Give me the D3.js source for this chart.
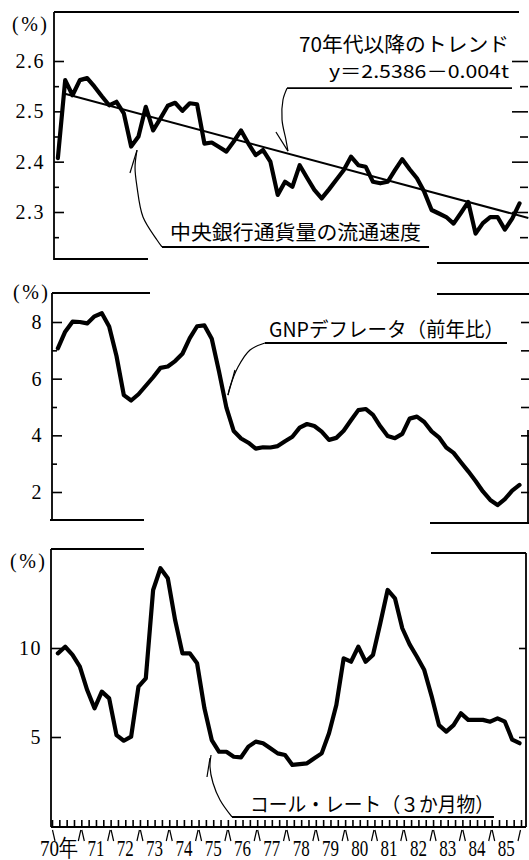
<!DOCTYPE html>
<html>
<head>
<meta charset="utf-8">
<script src="https://d3js.org/d3.v7.min.js"></script>
<style>
  body { margin: 0; background: #fff; }
  svg { display: block; }
  .num { font-family: "Liberation Serif", "DejaVu Serif", serif; fill: #000; }
  .jp { font-family: "Noto Sans CJK JP", sans-serif; fill: #000; }
  .frame { stroke: #000; stroke-width: 1.8; fill: none; }
  .axis path { display: none; }
  .axis line { stroke: #000; stroke-width: 1.6; }
</style>
</head>
<body>
<svg width="529" height="860"></svg>
<script>
  // quarterly data, 1970 Q1 .. 1985 Q4
  const velocity = [
    2.407, 2.562, 2.532, 2.562, 2.566, 2.549, 2.530, 2.512,
    2.519, 2.496, 2.430, 2.450, 2.509, 2.462, 2.486, 2.511,
    2.517, 2.501, 2.516, 2.514, 2.436, 2.438, 2.429, 2.420,
    2.440, 2.462, 2.436, 2.413, 2.423, 2.400, 2.334, 2.360,
    2.350, 2.393, 2.368, 2.344, 2.327, 2.345, 2.364, 2.383,
    2.410, 2.393, 2.390, 2.360, 2.357, 2.360, 2.383, 2.405,
    2.385, 2.367, 2.340, 2.304, 2.297, 2.290, 2.277, 2.298,
    2.320, 2.257, 2.278, 2.290, 2.290, 2.265, 2.287, 2.317
  ];
  const deflator = [
    7.07, 7.66, 8.01, 8.00, 7.95, 8.20, 8.31, 7.84,
    6.80, 5.42, 5.23, 5.45, 5.75, 6.05, 6.38, 6.43,
    6.62, 6.88, 7.43, 7.85, 7.88, 7.41, 6.24, 4.98,
    4.15, 3.89, 3.74, 3.53, 3.58, 3.57, 3.62, 3.79,
    3.95, 4.27, 4.40, 4.33, 4.13, 3.84, 3.91, 4.16,
    4.53, 4.89, 4.93, 4.72, 4.32, 3.98, 3.90, 4.05,
    4.59, 4.66, 4.47, 4.14, 3.93, 3.57, 3.38, 3.05,
    2.73, 2.39, 2.02, 1.72, 1.54, 1.75, 2.05, 2.25
  ];
  const callRate = [
    9.70, 10.07, 9.61, 8.95, 7.64, 6.61, 7.55, 7.17,
    5.11, 4.79, 5.02, 7.83, 8.30, 13.26, 14.48, 13.92,
    11.57, 9.70, 9.70, 9.14, 6.61, 4.83, 4.17, 4.17,
    3.89, 3.86, 4.46, 4.74, 4.65, 4.37, 4.08, 3.99,
    3.43, 3.48, 3.52, 3.80, 4.08, 5.21, 6.80, 9.42,
    9.23, 10.07, 9.23, 9.61, 11.39, 13.26, 12.79, 11.11,
    10.20, 9.51, 8.76, 7.30, 5.67, 5.30, 5.67, 6.33,
    5.96, 5.96, 5.96, 5.86, 6.05, 5.86, 4.85, 4.65
  ];
  // trend line end points: [quarter, value]
  const trendEnds = [[0.7, 2.536], [64.2, 2.288]];

  const velocityTicks = [2.3, 2.4, 2.5, 2.6];
  const velocityMinor = [2.25, 2.35, 2.45, 2.55];
  const deflatorTicks = [2, 4, 6, 8];
  const deflatorMinor = [3, 5, 7];
  const callTicks = [5, 10];
  const years = d3.range(1970, 1986);
  const yearLabels = years.map(y => y === 1970 ? '70年' : String(y).slice(2));

  const svg = d3.select('svg');

  const xYear = d3.scaleLinear().domain([1970, 1986]).range([52, 521]);
  const xq = d3.scaleLinear().domain([-0.8, 63.2]).range([52, 521]);

  const y1 = d3.scaleLinear().domain([2.3, 2.6]).range([212, 61]);
  const y2 = d3.scaleLinear().domain([2, 8]).range([492, 322]);
  const y3 = d3.scaleLinear().domain([5, 10]).range([737, 648]);

  /*****************************************************
  ** frames (the printed frame is broken in places)
  ******************************************************/
  const frames = [
    [[54, 12], [54, 260]], [[54, 12], [519, 12]], [[54, 259], [148, 259]], [[437, 263], [529, 263]],
    [[52, 293], [52, 520]], [[52, 293], [150, 293]], [[437, 294], [529, 294]],
    [[50, 520], [144, 520]], [[430, 523], [529, 523]], [[528, 430], [528, 523]],
    [[51, 549], [51, 827]], [[51, 549], [144, 549]], [[431, 553], [526, 553]],
    [[526, 553], [526, 827]], [[51, 827], [526, 827]]
  ];
  svg.selectAll('line.frame').data(frames).enter().append('line')
    .attr('class', 'frame')
    .attr('x1', d => d[0][0]).attr('y1', d => d[0][1])
    .attr('x2', d => d[1][0]).attr('y2', d => d[1][1]);

  /*****************************************************
  ** y axes
  ******************************************************/
  function leftAxis(x, scale, major, minor, fmt) {
    const g = svg.append('g').attr('class', 'axis num').attr('transform', `translate(${x},0)`)
      .call(d3.axisLeft(scale).tickValues(major).tickSize(-10).tickPadding(9).tickFormat(fmt));
    g.selectAll('text').attr('font-size', 20).attr('letter-spacing', 1.5)
      .attr('font-family', '"Liberation Serif", "DejaVu Serif", serif').attr('fill', '#000');
    if (minor.length) {
      svg.append('g').attr('class', 'axis').attr('transform', `translate(${x},0)`)
        .call(d3.axisLeft(scale).tickValues(minor).tickSize(-5).tickFormat(''));
    }
  }
  function rightTicks(x, scale, major, minor, len) {
    svg.append('g').attr('class', 'axis').attr('transform', `translate(${x},0)`)
      .call(d3.axisRight(scale).tickValues(major).tickSize(-len).tickFormat(''));
    if (minor.length) {
      svg.append('g').attr('class', 'axis').attr('transform', `translate(${x},0)`)
        .call(d3.axisRight(scale).tickValues(minor).tickSize(-len / 2).tickFormat(''));
    }
  }

  leftAxis(54, y1, velocityTicks, velocityMinor, d3.format('.1f'));
  rightTicks(528, y1, velocityTicks, velocityMinor, 16);
  leftAxis(52, y2, deflatorTicks, deflatorMinor, d3.format('d'));
  rightTicks(529, y2, d3.range(2, 9), [], 8);
  leftAxis(51, y3, callTicks, [], d3.format('d'));
  rightTicks(526, y3, callTicks, [], 7);

  // (%) units
  [[12, 31], [13, 299], [10, 568]].forEach(p => {
    svg.append('text').attr('class', 'num').attr('x', p[0]).attr('y', p[1])
      .attr('font-size', 20).attr('letter-spacing', 2.5).text('(%)');
  });

  /*****************************************************
  ** bottom axis: quarter ticks, year marks and labels
  ******************************************************/
  svg.append('g').attr('class', 'axis').attr('transform', 'translate(0,827)')
    .call(d3.axisBottom(xYear).tickValues(d3.range(1970, 1986.01, 0.25)).tickSize(-7).tickFormat(''));

  const bounds = d3.range(1970, 1987);
  svg.selectAll('path.sep').data(bounds).enter().append('path')
    .attr('class', 'sep')
    .attr('d', b => {
      const x = xYear(b);
      let d = '';
      if (b > 1970) d += `M${x - 0.5},830L${x - 3},841`;
      if (b < 1986) d += `M${x + 0.5},830L${x + 3},841`;
      return d;
    })
    .attr('stroke', '#000').attr('stroke-width', 1.2).attr('fill', 'none');

  svg.selectAll('text.year').data(years).enter().append('text')
    .attr('class', 'year num')
    .attr('x', (y, i) => i === 0 ? 40 : xYear(y + 0.5) - 8.5)
    .attr('y', 856)
    .attr('font-size', 24)
    .attr('textLength', (y, i) => i === 0 ? 38 : 17)
    .attr('lengthAdjust', 'spacingAndGlyphs')
    .text((y, i) => yearLabels[i]);

  /*****************************************************
  ** series
  ******************************************************/
  const line = scale => d3.line().x((d, i) => xq(i)).y(d => scale(d));

  svg.append('path').datum(trendEnds)
    .attr('d', d3.line().x(d => xq(d[0])).y(d => y1(d[1])))
    .attr('stroke', '#000').attr('stroke-width', 2).attr('fill', 'none');

  [[velocity, y1], [deflator, y2], [callRate, y3]].forEach(([data, scale]) => {
    svg.append('path').datum(data)
      .attr('d', line(scale))
      .attr('fill', 'none').attr('stroke', '#000').attr('stroke-width', 4.2)
      .attr('stroke-linejoin', 'round').attr('stroke-linecap', 'round');
  });

  /*****************************************************
  ** labels with leaders, points as [quarter, value]
  ******************************************************/
  const notes = [
    { scale: y1,
      leader: [[31.27, 2.546], [30.72, 2.523], [30.59, 2.483], [31.13, 2.443], [31.40, 2.421]],
      arrow: [[29.76, 2.459], [31.40, 2.421]],
      under: [[31.27, 2.546], [61.97, 2.546]],
      texts: [
        { at: [61.56, 2.618], anchor: 'end', len: 210, size: 20, t: '70年代以降のトレンド' },
        { at: [61.56, 2.566], anchor: 'end', len: 180, size: 18, t: 'y＝2.5386－0.004t' }
      ] },
    { scale: y1,
      leader: [[14.21, 2.2305], [13.53, 2.2444], [11.62, 2.290], [10.80, 2.350], [10.53, 2.389], [10.80, 2.423]],
      arrow: [[9.84, 2.3775], [10.80, 2.423]],
      under: [[14.21, 2.2305], [50.65, 2.2305]],
      texts: [{ at: [15.30, 2.2444], anchor: 'start', len: 251, size: 20, t: '中央銀行通貨量の流通速度' }] },
    { scale: y2,
      leader: [[28.26, 7.259], [26.22, 7.012], [24.58, 6.41], [23.49, 5.706], [23.21, 5.42]],
      arrow: [[24.17, 6.306], [23.21, 5.42]],
      under: [[28.26, 7.259], [61.29, 7.259]],
      texts: [{ at: [28.81, 7.47], anchor: 'start', len: 235, size: 20, t: 'GNPデフレータ（前年比）' }] },
    { scale: y3,
      leader: [[23.76, 0.506], [22.13, 1.461], [21.17, 2.416], [20.76, 3.315], [20.90, 3.989]],
      arrow: [[20.35, 2.753], [20.76, 3.82]],
      under: [[23.76, 0.506], [59.51, 0.506]],
      texts: [{ at: [26.22, 0.787], anchor: 'start', len: 244, size: 20, t: 'コール・レート（３か月物）' }] }
  ];

  notes.forEach(n => {
    const pt = d3.line().x(d => xq(d[0])).y(d => n.scale(d[1]));
    svg.append('path').attr('d', pt.curve(d3.curveCatmullRom)(n.leader))
      .attr('fill', 'none').attr('stroke', '#000').attr('stroke-width', 1.2);
    svg.append('path').attr('d', d3.line().x(d => xq(d[0])).y(d => n.scale(d[1]))(n.arrow))
      .attr('fill', 'none').attr('stroke', '#000').attr('stroke-width', 1.2);
    svg.append('path').attr('d', d3.line().x(d => xq(d[0])).y(d => n.scale(d[1]))(n.under))
      .attr('fill', 'none').attr('stroke', '#000').attr('stroke-width', 1.8);
    n.texts.forEach(t => {
      svg.append('text').attr('class', 'jp')
        .attr('x', xq(t.at[0])).attr('y', n.scale(t.at[1]))
        .attr('text-anchor', t.anchor)
        .attr('font-size', t.size)
        .attr('textLength', t.len).attr('lengthAdjust', 'spacingAndGlyphs')
        .text(t.t);
    });
  });
</script>
</body>
</html>
